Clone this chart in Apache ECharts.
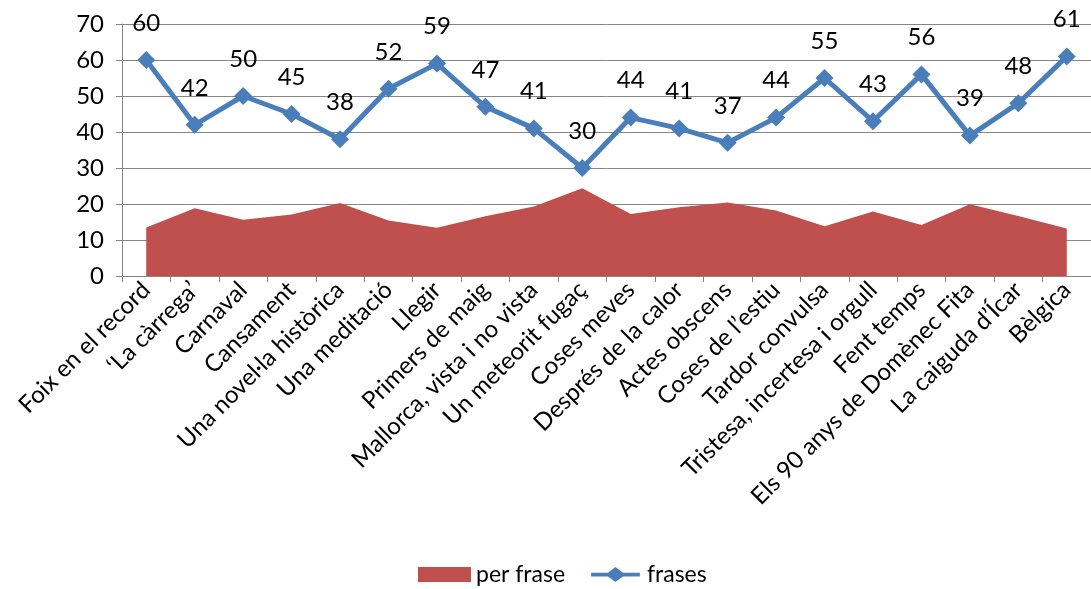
<!DOCTYPE html>
<html><head><meta charset="utf-8">
<script src="https://cdn.jsdelivr.net/npm/echarts@6/dist/echarts.min.js"></script>
<style>html,body{margin:0;padding:0;background:#fff}#c{width:1091px;height:589px}</style>
</head><body><div id="c"></div>
<script>
const categories = ["Foix en el record","‘La càrrega’","Carnaval","Cansament","Una novel·la històrica","Una meditació","Llegir","Primers de maig","Mallorca, vista i no vista","Un meteorit fugaç","Coses meves","Després de la calor","Actes obscens","Coses de l’estiu","Tardor convulsa","Tristesa, incertesa i orgull","Fent temps","Els 90 anys de Domènec Fita","La caiguda d’Ícar","Bèlgica"];
const perFrase = [13.5,18.8,15.6,17.1,20.3,15.4,13.4,16.6,19.3,24.4,17.2,19.1,20.4,18.2,13.8,17.9,14.2,19.9,16.7,13.2];
const frases = [60,42,50,45,38,52,59,47,41,30,44,41,37,44,55,43,56,39,48,61];
const yTicks = {min:0,max:70,interval:10};
const FONT = 'Lato';
const lineIcon = 'path://M0,6L18,6L26,0L34,6L52,6L52,10L34,10L26,16L18,10L0,10Z';
const chart = echarts.init(document.getElementById('c'));
chart.setOption({
  animation:false,
  textStyle:{fontFamily:FONT},
  grid:{left:122,top:24,width:974,height:252,containLabel:false},
  legend:{top:558,left:413,itemGap:26,textStyle:{fontFamily:FONT,fontSize:23,color:'#000'},
    data:[{name:'per frase',icon:'rect',itemStyle:{color:'#c0504d'}},
          {name:'frases',icon:lineIcon,itemStyle:{color:'#4a7ebb'}}],
    itemWidth:53,itemHeight:15},
  xAxis:{type:'category',data:categories,boundaryGap:true,
    axisLine:{lineStyle:{color:'#868686',width:1}},
    axisTick:{show:true,length:6,lineStyle:{color:'#868686'},alignWithLabel:false},
    axisLabel:{rotate:45,interval:0,fontFamily:FONT,fontSize:24,color:'#000',margin:10}},
  yAxis:{type:'value',min:yTicks.min,max:yTicks.max,interval:yTicks.interval,
    axisLine:{show:true,lineStyle:{color:'#868686'}},
    axisTick:{show:true,length:6,lineStyle:{color:'#868686'}},
    splitLine:{lineStyle:{color:'#868686',width:1}},
    axisLabel:{fontFamily:FONT,fontSize:24,color:'#000',margin:18}},
  series:[
    {name:'per frase',type:'line',data:perFrase,symbol:'none',lineStyle:{width:0},
     itemStyle:{color:'#c0504d'},areaStyle:{color:'#c0504d',opacity:1}},
    {name:'frases',type:'line',data:frases,symbol:'diamond',symbolSize:18,
     lineStyle:{color:'#4a7ebb',width:5},itemStyle:{color:'#4a7ebb'},
     label:{show:true,position:'top',distance:16,fontFamily:FONT,fontSize:24,color:'#000'}}
  ]
});
</script></body></html>
